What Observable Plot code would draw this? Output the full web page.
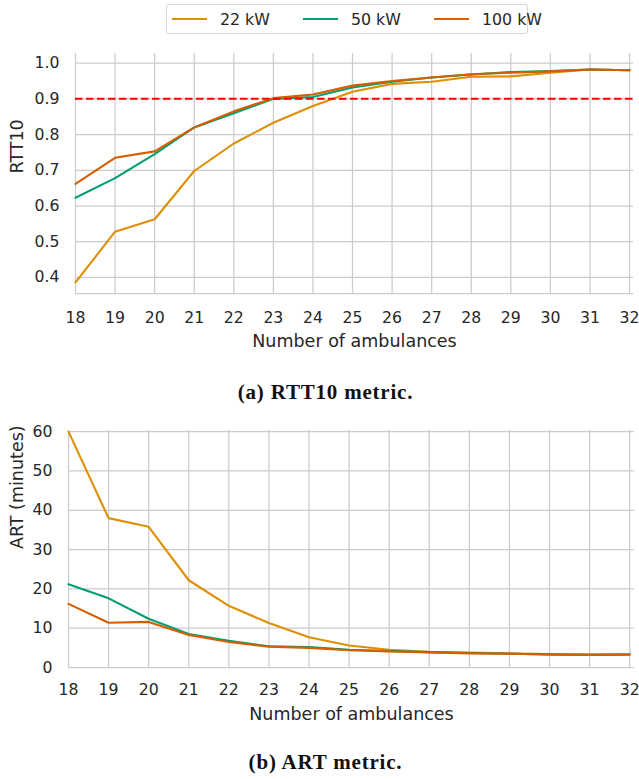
<!DOCTYPE html>
<html>
<head>
<meta charset="utf-8">
<script src="https://cdn.jsdelivr.net/npm/d3@7"></script>
<script src="https://cdn.jsdelivr.net/npm/@observablehq/plot@0.6"></script>
<style>
  html, body { margin: 0; padding: 0; background: #fff; }
  body { width: 639px; height: 779px; position: relative; overflow: hidden; font-family: "DejaVu Sans", sans-serif; color: #262626; }
  .abs { position: absolute; }
  #legend { left: 166px; top: 4px; width: 360px; height: 28px; border: 1px solid #d6d6d6; border-radius: 3px; box-sizing: content-box; }
  .item { position: absolute; top: 0; height: 28px; display: flex; align-items: center; font-size: 15.8px; color: #262626; white-space: nowrap; }
  .sw { width: 35px; height: 2px; margin-right: 13px; flex: none; }
  .cap { left: 6px; width: 639px; text-align: center; font-family: "Liberation Serif", serif; font-weight: bold; font-size: 21px; letter-spacing: 0.8px; color: #111; }
</style>
</head>
<body>
<div id="legend" class="abs"></div>
<div id="top" class="abs" style="left:0;top:40px;"></div>
<div class="abs cap" style="top:380px;">(a) RTT10 metric.</div>
<div id="bottom" class="abs" style="left:0;top:410px;"></div>
<div class="abs cap" style="top:750px;">(b) ART metric.</div>
<script>
const ambulances = [18,19,20,21,22,23,24,25,26,27,28,29,30,31,32];
const series = ["22 kW", "50 kW", "100 kW"];
const seriesColors = ["#DE8F05", "#029E73", "#D55E00"];

const rtt22  = [0.386,0.528,0.563,0.698,0.775,0.833,0.880,0.920,0.942,0.948,0.962,0.963,0.973,0.982,0.980];
const rtt50  = [0.623,0.678,0.745,0.820,0.860,0.900,0.905,0.932,0.948,0.960,0.968,0.975,0.978,0.982,0.980];
const rtt100 = [0.662,0.735,0.753,0.820,0.865,0.902,0.912,0.937,0.950,0.960,0.969,0.973,0.977,0.982,0.980];

const art22  = [60.0,38.0,35.8,22.2,15.7,11.3,7.7,5.6,4.5,4.0,3.8,3.6,3.4,3.3,3.3];
const art50  = [21.2,17.6,12.4,8.5,6.8,5.4,5.2,4.5,4.2,3.9,3.7,3.5,3.3,3.2,3.3];
const art100 = [16.2,11.4,11.6,8.3,6.5,5.3,5.0,4.4,4.1,3.8,3.6,3.5,3.3,3.2,3.3];

const rttTicks = [0.4,0.5,0.6,0.7,0.8,0.9,1.0];
const artTicks = [0,10,20,30,40,50,60];
const rttTarget = 0.9;

const xTitle = "Number of ambulances";
const rttTitle = "RTT10";
const artTitle = "ART (minutes)";

function longForm(arrs) {
  const out = [];
  arrs.forEach((arr, si) => arr.forEach((v, i) => out.push({x: ambulances[i], y: v, s: series[si]})));
  return out;
}
const rttData = longForm([rtt22, rtt50, rtt100]);
const artData = longForm([art22, art50, art100]);

// legend
const legend = document.getElementById("legend");
series.forEach((s, i) => {
  const it = document.createElement("div");
  it.className = "item";
  it.style.left = (5 + i * 131) + "px";
  const sw = document.createElement("div");
  sw.className = "sw";
  sw.style.background = seriesColors[i];
  const t = document.createElement("span");
  t.textContent = s;
  it.appendChild(sw); it.appendChild(t);
  legend.appendChild(it);
});

const tickFont = 15.7;
const gridStyle = {stroke: "#cccccc", strokeOpacity: 1, strokeWidth: 1.25};
const common = {
  width: 639,
  style: {fontFamily: "DejaVu Sans", fontSize: tickFont + "px", color: "#262626", background: "white", overflow: "visible"},
  color: {domain: series, range: seriesColors}
};
const titleStyle = {fontSize: 17.5, fill: "#262626", lineAnchor: "middle"};

const topChart = Plot.plot({
  ...common,
  height: 320,
  marginLeft: 75, marginRight: 6, marginTop: 13, marginBottom: 67,
  x: {domain: [18, 32.1]},
  y: {domain: [0.355, 1.027]},
  marks: [
    Plot.gridX(ambulances, gridStyle),
    Plot.gridY(rttTicks, gridStyle),
    Plot.ruleY([0.355], gridStyle),
    Plot.line(rttData, {x: "x", y: "y", z: "s", stroke: "s", strokeWidth: 2.1}),
    Plot.ruleY([rttTarget], {stroke: "#ff0000", strokeWidth: 2, strokeDasharray: "7.5,3.5"}),
    Plot.axisX(ambulances, {tickSize: 0, tickPadding: 18, fontSize: tickFont, tickFormat: d => String(d), label: null}),
    Plot.axisY(rttTicks, {tickSize: 0, tickPadding: 16, fontSize: tickFont, tickFormat: d3.format(".1f"), label: null}),
    Plot.text([xTitle], {...titleStyle, text: d => d, frameAnchor: "bottom", dy: 48}),
    Plot.text([rttTitle], {...titleStyle, text: d => d, frameAnchor: "left", rotate: -90, dx: -58})
  ]
});
document.getElementById("top").appendChild(topChart);

const bottomChart = Plot.plot({
  ...common,
  height: 340,
  marginLeft: 68, marginRight: 5, marginTop: 20, marginBottom: 83,
  x: {domain: [18, 32.12]},
  y: {domain: [0, 60.3]},
  marks: [
    Plot.gridX(ambulances, gridStyle),
    Plot.gridY(artTicks, gridStyle),
    Plot.line(artData, {x: "x", y: "y", z: "s", stroke: "s", strokeWidth: 2.1}),
    Plot.axisX(ambulances, {tickSize: 0, tickPadding: 16, fontSize: tickFont, tickFormat: d => String(d), label: null}),
    Plot.axisY(artTicks, {tickSize: 0, tickPadding: 16, fontSize: tickFont, tickFormat: d => String(d), label: null}),
    Plot.text([xTitle], {...titleStyle, text: d => d, frameAnchor: "bottom", dy: 47}),
    Plot.text([artTitle], {...titleStyle, text: d => d, frameAnchor: "left", rotate: -90, dx: -51.5})
  ]
});
document.getElementById("bottom").appendChild(bottomChart);
</script>
</body>
</html>
